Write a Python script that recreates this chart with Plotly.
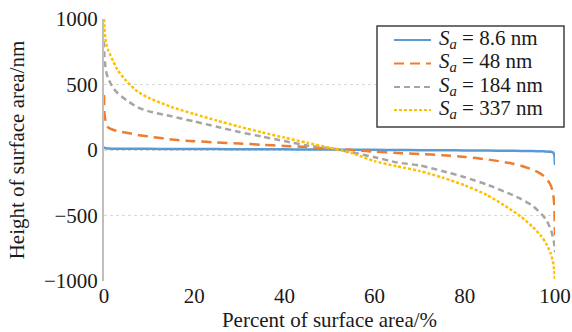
import plotly.graph_objects as go

x_pct = [0, 0.1, 0.3, 0.6, 1, 2, 3, 5, 7.5, 10, 15, 20, 25, 30, 35, 40, 45, 50, 55,
         60, 65, 70, 75, 80, 85, 90, 92.5, 95, 97, 98, 99, 99.5, 99.8, 100]

sa_86 = [25, 18, 14, 12, 11, 10, 10, 9, 9, 9, 8, 8, 7, 6, 5, 5, 4, 3, 2, 1, 0, -1, -2,
         -3, -4, -6, -7, -8, -10, -11, -14, -18, -30, -115]
sa_48 = [420, 280, 230, 185, 170, 155, 145, 132, 115, 103, 80, 67, 58, 50, 40, 31, 22,
         10, 0, -13, -22, -30, -40, -53, -72, -100, -120, -150, -185, -215, -265, -320,
         -400, -650]
sa_184 = [830, 720, 640, 580, 540, 475, 435, 380, 325, 295, 257, 218, 178, 137, 103, 68,
          35, 12, -18, -55, -95, -118, -160, -208, -265, -335, -375, -425, -490, -530,
          -600, -660, -710, -780]
sa_337 = [1000, 930, 850, 800, 755, 680, 610, 525, 445, 397, 328, 275, 225, 178, 135, 95,
          55, 18, -25, -85, -125, -160, -210, -270, -345, -450, -510, -585, -660, -710,
          -785, -845, -910, -1000]

names = ["8.6 nm", "48 nm", "184 nm", "337 nm"]
series = [sa_86, sa_48, sa_184, sa_337]
colors = ["#5B9BD5", "#ED7D31", "#A5A5A5", "#FFC000"]
dashes = ["solid", "10px,6px", "6px,4px", "3px,2px"]

x_ticks = [0, 20, 40, 60, 80, 100]
y_ticks = [-1000, -500, 0, 500, 1000]

FONT = "Liberation Serif"
W, H = 572, 332
ML, MR, MT, MB = 104, 17, 19, 51
PW, PH = W - ML - MR, H - MT - MB


def px_x(p):
    return (p - ML) / PW


def px_y(p):
    return (H - MB - p) / PH


fig = go.Figure()
for nm, ys, c, d in zip(names, series, colors, dashes):
    fig.add_trace(go.Scatter(
        x=x_pct, y=ys, mode="lines",
        name="<i>S</i><sub><i>a</i></sub> = " + nm,
        line=dict(color=c, width=2.5, dash=d, shape="spline", smoothing=0.6),
        showlegend=False,
    ))

# legend box (drawn manually for exact Excel-like look)
shapes = [dict(type="rect", xref="paper", yref="paper",
               x0=px_x(377), x1=px_x(564), y0=px_y(127), y1=px_y(26),
               line=dict(color="#404040", width=1.5), fillcolor="white", layer="above")]
annotations = []
row_y = [40, 63.5, 87, 110]
for nm, c, d, ry in zip(names, colors, dashes, row_y):
    shapes.append(dict(type="line", xref="paper", yref="paper",
                       x0=px_x(394), x1=px_x(431), y0=px_y(ry), y1=px_y(ry),
                       line=dict(color=c, width=2, dash=d), layer="above"))
    annotations.append(dict(xref="paper", yref="paper", x=px_x(437), y=px_y(ry - 1),
                            xanchor="left", yanchor="middle", showarrow=False,
                            text="<i>S</i><sub><i>a</i></sub> = " + nm,
                            font=dict(family=FONT, size=21, color="#1a1a1a")))

fig.update_layout(
    width=W, height=H,
    margin=dict(l=ML, r=MR, t=MT, b=MB),
    paper_bgcolor="white", plot_bgcolor="white",
    font=dict(family=FONT, size=21, color="#1a1a1a"),
    showlegend=False,
    shapes=shapes, annotations=annotations,
)
fig.update_xaxes(
    range=[0, 100], tickvals=x_ticks, showgrid=False, zeroline=False,
    showline=False, ticks="", automargin=False,
    title=dict(text="Percent of surface area/%", standoff=6,
               font=dict(family=FONT, size=21)),
    tickfont=dict(family=FONT, size=21),
)
fig.update_yaxes(
    range=[-1000, 1000], tickvals=y_ticks, showgrid=True,
    gridcolor="#D9D9D9", griddash="dot", gridwidth=1,
    zeroline=False, showline=True, linecolor="#BFBFBF", linewidth=2,
    ticks="", automargin=False,
    title=dict(text="Height of surface area/nm", standoff=14,
               font=dict(family=FONT, size=21)),
    tickfont=dict(family=FONT, size=21),
)

fig.write_html("out.html")
